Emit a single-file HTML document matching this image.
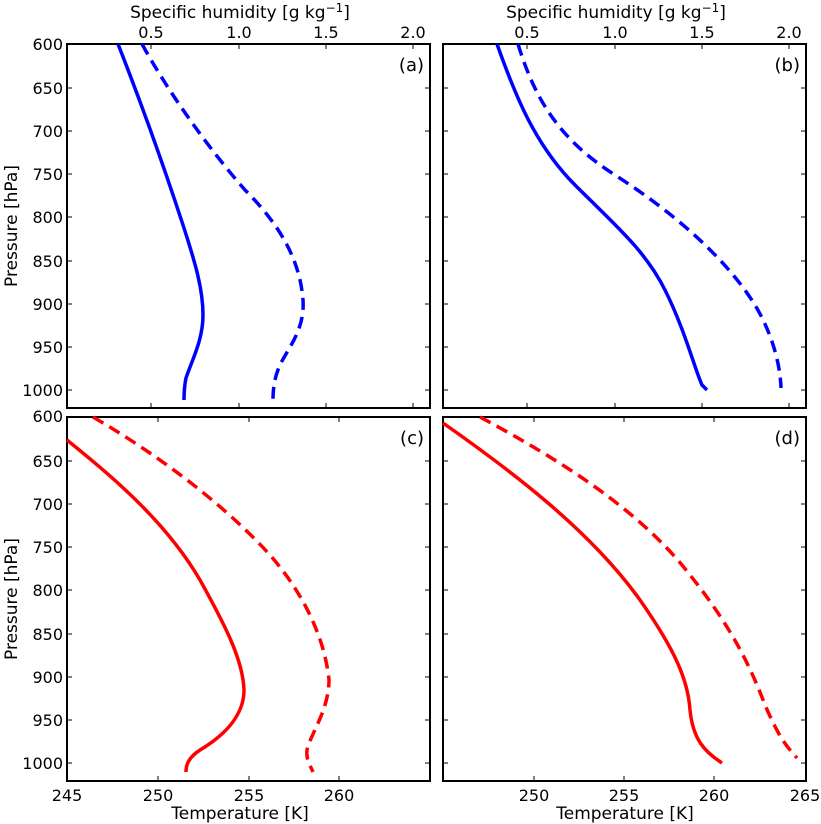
<!DOCTYPE html><html><head><style>body{margin:0;background:#fff}svg{display:block;font-family:"DejaVu Sans","Liberation Sans",sans-serif}</style></head><body>
<svg width="821" height="824" viewBox="0 0 821 824">
<g fill="none" stroke="#000" stroke-width="2">
<rect x="67" y="44" width="363" height="364"/><rect x="443" y="44" width="363" height="364"/>
<rect x="67" y="417" width="363" height="364"/><rect x="443" y="417" width="363" height="364"/>
</g>
<g stroke="#000" stroke-width="1">
<path d="M67,88h5M67,131h5M67,174h5M67,217h5M67,261h5M67,304h5M67,347h5M67,390h5M430,88h-5M430,131h-5M430,174h-5M430,217h-5M430,261h-5M430,304h-5M430,347h-5M430,390h-5"/>
<path d="M443,88h5M443,131h5M443,174h5M443,217h5M443,261h5M443,304h5M443,347h5M443,390h5M806,88h-5M806,131h-5M806,174h-5M806,217h-5M806,261h-5M806,304h-5M806,347h-5M806,390h-5"/>
<path d="M67,461h5M67,504h5M67,547h5M67,590h5M67,634h5M67,677h5M67,720h5M67,763h5M430,461h-5M430,504h-5M430,547h-5M430,590h-5M430,634h-5M430,677h-5M430,720h-5M430,763h-5"/>
<path d="M443,461h5M443,504h5M443,547h5M443,590h5M443,634h5M443,677h5M443,720h5M443,763h5M806,461h-5M806,504h-5M806,547h-5M806,590h-5M806,634h-5M806,677h-5M806,720h-5M806,763h-5"/>
<path d="M151,44v5M239,44v5M326,44v5M413,44v5M151,408v-5M239,408v-5M326,408v-5M413,408v-5"/>
<path d="M527,44v5M615,44v5M702,44v5M789,44v5M527,408v-5M615,408v-5M702,408v-5M789,408v-5"/>
<path d="M158,781v-5M249,781v-5M339,781v-5M158,417v5M249,417v5M339,417v5"/>
<path d="M534,781v-5M624,781v-5M714,781v-5M534,417v5M624,417v5M714,417v5"/>
</g>
<g font-size="16" text-anchor="end">
<text x="63" y="50">600</text><text x="63" y="94">650</text><text x="63" y="137">700</text><text x="63" y="180">750</text><text x="63" y="223">800</text><text x="63" y="267">850</text><text x="63" y="310">900</text><text x="63" y="353">950</text><text x="63" y="396">1000</text>
<text x="63" y="422">600</text><text x="63" y="467">650</text><text x="63" y="510">700</text><text x="63" y="553">750</text><text x="63" y="596">800</text><text x="63" y="640">850</text><text x="63" y="683">900</text><text x="63" y="726">950</text><text x="63" y="769">1000</text>
</g>
<g font-size="16" text-anchor="middle">
<text x="151" y="38">0.5</text><text x="239" y="38">1.0</text><text x="326" y="38">1.5</text><text x="413" y="38">2.0</text>
<text x="527" y="38">0.5</text><text x="615" y="38">1.0</text><text x="702" y="38">1.5</text><text x="789" y="38">2.0</text>
<text x="67" y="801">245</text><text x="158" y="801">250</text><text x="249" y="801">255</text><text x="339" y="801">260</text>
<text x="534" y="801">250</text><text x="624" y="801">255</text><text x="714" y="801">260</text><text x="805" y="801">265</text>
<text x="240" y="819" font-size="17">Temperature [K]</text><text x="625" y="819" font-size="17">Temperature [K]</text>
<text x="240" y="18" font-size="17">Specific humidity [g kg<tspan dy="-6" font-size="12">−1</tspan><tspan dy="6">]</tspan></text>
<text x="616" y="18" font-size="17">Specific humidity [g kg<tspan dy="-6" font-size="12">−1</tspan><tspan dy="6">]</tspan></text>
<text transform="translate(17,226) rotate(-90)" font-size="17">Pressure [hPa]</text>
<text transform="translate(17,599) rotate(-90)" font-size="17">Pressure [hPa]</text>
</g>
<g font-size="18" text-anchor="end"><text x="424" y="71">(a)</text><text x="800" y="71">(b)</text><text x="424" y="444">(c)</text><text x="800" y="444">(d)</text></g>
<g fill="none" stroke-width="3.5" stroke-linejoin="round">
<path stroke="#00f" d="M118,44 C140,100 165,170 183,225 C196,265 203,290 203,315 C203,340 192,360 186,378 C184,388 184,395 184,400"/>
<path stroke="#00f" stroke-dasharray="12,7" d="M142,44 C170,95 210,150 245,190 C280,225 300,260 303,300 C305,330 288,348 280,365 C274,378 273,390 273,400"/>
<path stroke="#00f" d="M497,44 C515,95 535,145 575,185 C615,225 645,250 665,290 C685,330 695,370 702,385 L707,390"/>
<path stroke="#00f" stroke-dasharray="12,7" d="M518,44 C535,100 560,140 615,175 C685,220 730,265 755,305 C770,330 780,360 781,388"/>
<path stroke="#f00" d="M67,440 C110,475 165,520 200,580 C225,625 243,660 244,690 C244,715 225,735 200,750 C188,758 186,765 186,772"/>
<path stroke="#f00" stroke-dasharray="12,7" d="M93,417 C150,450 220,500 270,555 C305,595 325,640 329,680 C329,710 310,735 307,750 C306,760 310,765 313,772"/>
<path stroke="#f00" d="M443,423 C510,470 590,530 640,600 C675,650 688,680 690,710 C693,740 705,752 722,763"/>
<path stroke="#f00" stroke-dasharray="12,7" d="M480,417 C560,460 640,510 690,575 C730,625 750,665 765,705 C778,735 785,745 797,758"/>
</g>
</svg></body></html>
